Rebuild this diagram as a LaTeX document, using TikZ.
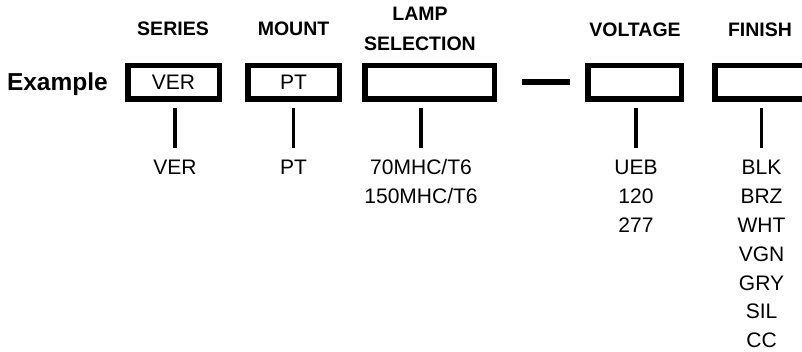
\documentclass[tikz,border=0pt]{standalone}
\usepackage{fontspec}
\setmainfont{Liberation Sans}
\begin{document}
\begin{tikzpicture}[x=1pt,y=-1pt,
  box/.style={draw, line width=5.5pt, minimum height=33.5pt, inner sep=0pt,
              font=\fontsize{21}{25}\selectfont},
  head/.style={font=\fontsize{19.5}{23}\selectfont\bfseries, anchor=base, inner sep=0pt},
  lab/.style={font=\fontsize{21}{25}\selectfont, anchor=base, inner sep=0pt},
  conn/.style={line width=3.5pt},
  dashbar/.style={line width=5.5pt}]
\useasboundingbox (0,0) rectangle (802,351);
\clip (0,0) rectangle (802,351);

% example label
\node[font=\fontsize{24.5}{28}\selectfont\bfseries, anchor=base east, inner sep=0pt] (ex) at (108,90) {Example};

% headings
\node[head] (h1) at (173,35.5) {SERIES};
\node[head] (h2) at (293.5,35.5) {MOUNT};
\node[head] (h3a) at (420,20.5) {LAMP};
\node[head] (h3b) at (420,50) {SELECTION};
\node[head] (h4) at (635,36) {VOLTAGE};
\node[head] (h5) at (760,36) {FINISH};

% boxes
\node[box, minimum width=91.5pt] (b1) at (173.5,82) {VER};
\node[box, minimum width=91.5pt] (b2) at (293.5,82) {PT};
\node[box, minimum width=129.5pt] (b3) at (429.5,82) {};
\node[box, minimum width=93.5pt] (b4) at (634.5,82) {};
\node[box, minimum width=93.5pt] (b5) at (761.5,82) {};

% dash between lamp selection and voltage
\draw[dashbar] ([xshift=25pt]b3.east) -- ([xshift=-15pt]b4.west);

% option lists
\node[lab] (v1) at (175,174) {VER};
\node[lab] (m1) at (293.5,174) {PT};
\node[lab] (l1) at (421,174) {70MHC/T6};
\node[lab] (l2) at (421,203) {150MHC/T6};
\node[lab] (u1) at (636,174) {UEB};
\node[lab] (u2) at (636,203) {120};
\node[lab] (u3) at (636,232) {277};
\node[lab] (f1) at (761.5,174) {BLK};
\node[lab] (f2) at (761.5,203) {BRZ};
\node[lab] (f3) at (761.5,232) {WHT};
\node[lab] (f4) at (761.5,261) {VGN};
\node[lab] (f5) at (761.5,290) {GRY};
\node[lab] (f6) at (761.5,318.5) {SIL};
\node[lab] (f7) at (761.5,347) {CC};

% connectors
\draw[conn] ([yshift=-6.5pt]b1.south -| v1) -- ([yshift=26pt]v1.base);
\draw[conn] ([yshift=-6.5pt]b2.south -| m1) -- ([yshift=26pt]m1.base);
\draw[conn] ([yshift=-6.5pt]b3.south -| l1) -- ([yshift=26pt]l1.base);
\draw[conn] ([yshift=-6.5pt]b4.south -| u1) -- ([yshift=26pt]u1.base);
\draw[conn] ([yshift=-6.5pt]b5.south -| f1) -- ([yshift=26pt]f1.base);
\end{tikzpicture}
\end{document}
